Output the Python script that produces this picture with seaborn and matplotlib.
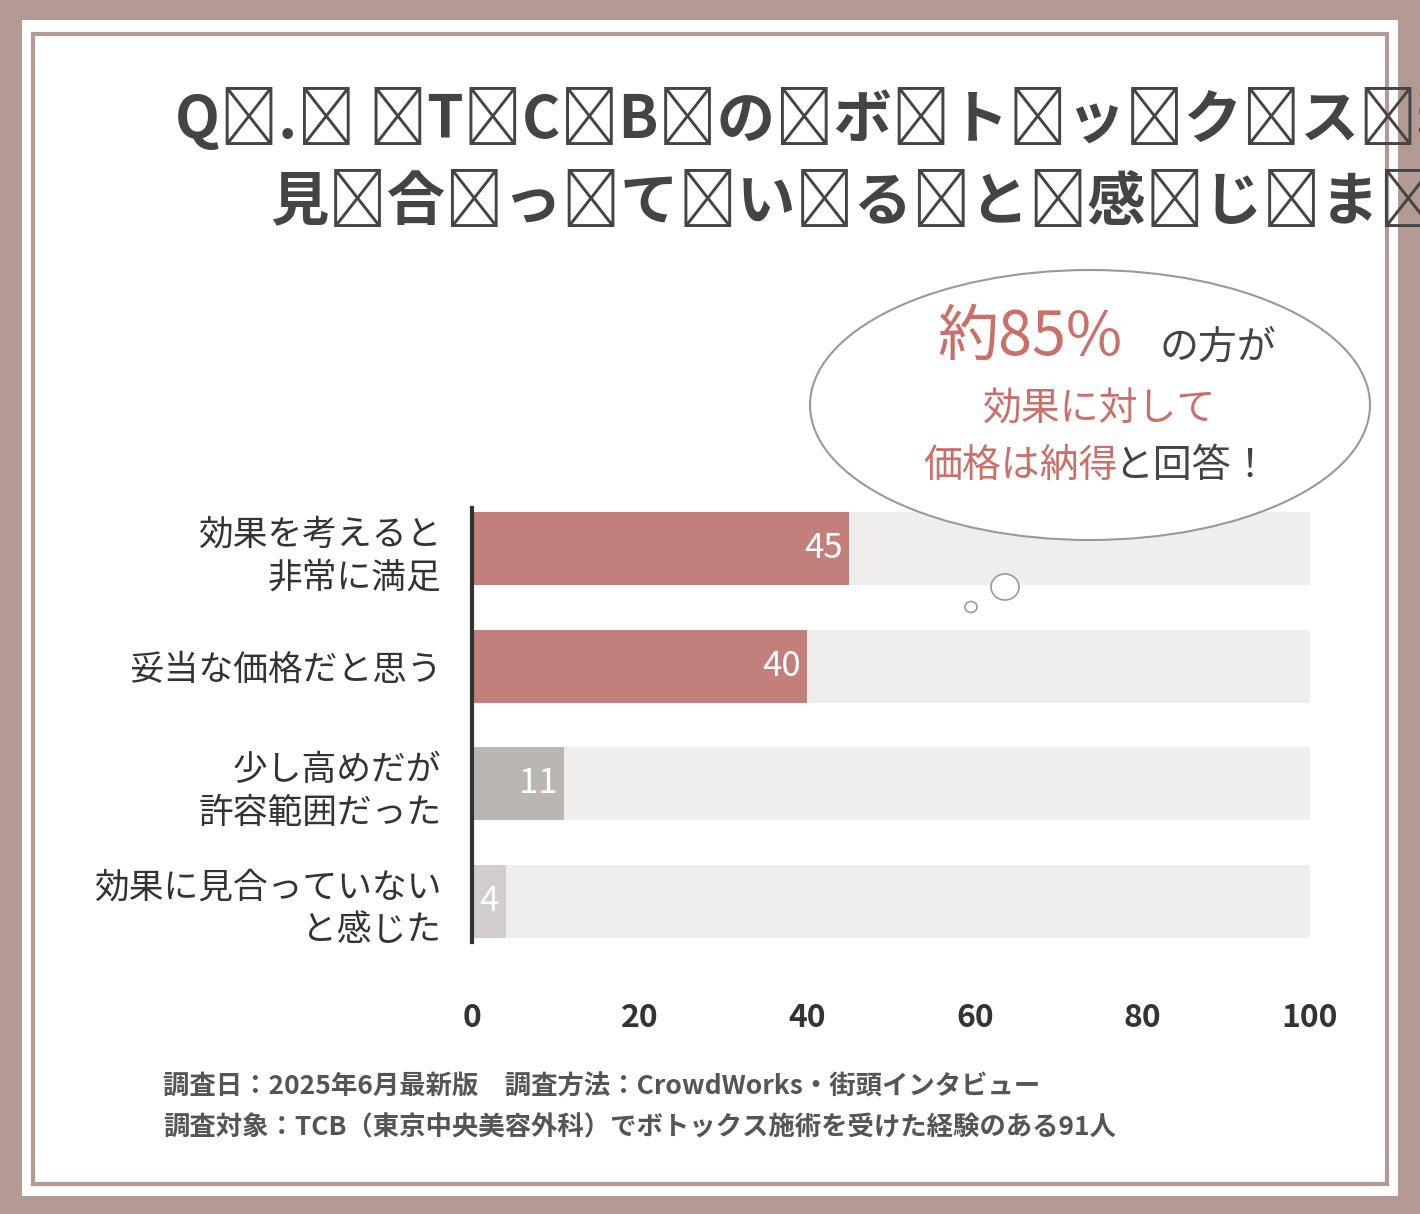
import matplotlib
matplotlib.use("Agg")
import matplotlib.pyplot as plt
import seaborn as sns
import pandas as pd
from matplotlib.patches import Rectangle, Ellipse

categories = ["効果を考えると\n非常に満足", "妥当な価格だと思う", "少し高めだが\n許容範囲だった", "効果に見合っていない\nと感じた"]
values = [45, 40, 11, 4]
track = [100, 100, 100, 100]
bar_colors = ["#cf7470", "#cf7470", "#bbb5b3", "#d2cdcb"]
xticks = [0, 20, 40, 60, 80, 100]

plt.rcParams["font.family"] = "Noto Sans CJK JP"
fig = plt.figure(figsize=(14.2, 12.14), dpi=100)
fig.patch.set_facecolor("#b39a92")
fig.patches.append(Rectangle((22/1420, 1-1196/1214), 1376/1420, 1176/1214, transform=fig.transFigure, facecolor="white", edgecolor="none", zorder=-2))
fig.patches.append(Rectangle((33/1420, 1-1184/1214), 1354/1420, 1150/1214, transform=fig.transFigure, facecolor="none", edgecolor="#b39a92", lw=3, zorder=-1))

df = pd.DataFrame({"cat": categories, "val": values, "track": track})
ax = fig.add_axes([472/1420, 1-960/1214, 838/1420, 470/1214])
ax.set_zorder(2)
ax.set_facecolor("none")
sns.barplot(data=df, y="cat", x="track", color="#f1eeec", width=0.62, ax=ax, orient="h")
sns.barplot(data=df, y="cat", x="val", hue="cat", palette=bar_colors, legend=False, width=0.62, ax=ax, orient="h")
for i, v in enumerate(values):
    ax.text(v - 0.8, i, str(v), ha="right", va="center", color="white", fontsize=25)
ax.set_xlim(0, 100)
ax.set_xticks(xticks)
ax.set_xticklabels([str(t) for t in xticks], fontsize=23, color="#333", fontweight="bold")
ax.tick_params(axis="x", length=0, pad=30)
ax.tick_params(axis="y", length=0, pad=22)
ax.set_yticks(range(4))
ax.set_yticklabels(categories, fontsize=25, color="#333", linespacing=1.3)
ax.set_xlabel(""); ax.set_ylabel("")
for s in ["top", "right", "bottom"]:
    ax.spines[s].set_visible(False)
ax.spines["left"].set_color("#333")
ax.spines["left"].set_linewidth(3)
ax.spines["left"].set_bounds(-0.35, 3.35)

sp = "\u2009"
fig.text(175/1420, 1-120/1214, sp.join("Q. TCBのボトックス料金は効果に"), fontsize=42, fontweight="bold", color="#444", va="center")
fig.text(270/1420, 1-203/1214, sp.join("見合っていると感じましたか？"), fontsize=42, fontweight="bold", color="#444", va="center")

# speech bubble (overlay axes)
ov = fig.add_axes([0, 0, 1, 1])
ov.set_zorder(5)
ov.set_xlim(0, 1420); ov.set_ylim(1214, 0)
ov.axis("off")
ov.add_patch(Ellipse((1090, 405), 560, 270, facecolor="white", edgecolor="#999", lw=1.5))
ov.add_patch(Ellipse((1005, 587), 28, 26, facecolor="white", edgecolor="#999", lw=1.2))
ov.add_patch(Ellipse((971, 607), 12, 11, facecolor="white", edgecolor="#999", lw=1.2))
ov.text(1030, 338, "約85%", fontsize=44, color="#c9706b", ha="center", va="center")
ov.text(1218, 348, "の方が", fontsize=28, color="#444", ha="center", va="center")
ov.text(1100, 410, "効果に対して", fontsize=28, color="#c9706b", ha="center", va="center")
ov.text(1020, 466, "価格は納得", fontsize=28, color="#c9706b", ha="center", va="center")
ov.text(1192, 466, "と回答！", fontsize=28, color="#444", ha="center", va="center")

fig.text(163/1420, 1-1087/1214, "調査日：2025年6月最新版　調査方法：CrowdWorks・街頭インタビュー", fontsize=19, fontweight="bold", color="#555", va="center")
fig.text(163/1420, 1-1128/1214, "調査対象：TCB（東京中央美容外科）でボトックス施術を受けた経験のある91人", fontsize=19, fontweight="bold", color="#555", va="center")

fig.savefig("out.png", dpi=100, facecolor=fig.get_facecolor())
